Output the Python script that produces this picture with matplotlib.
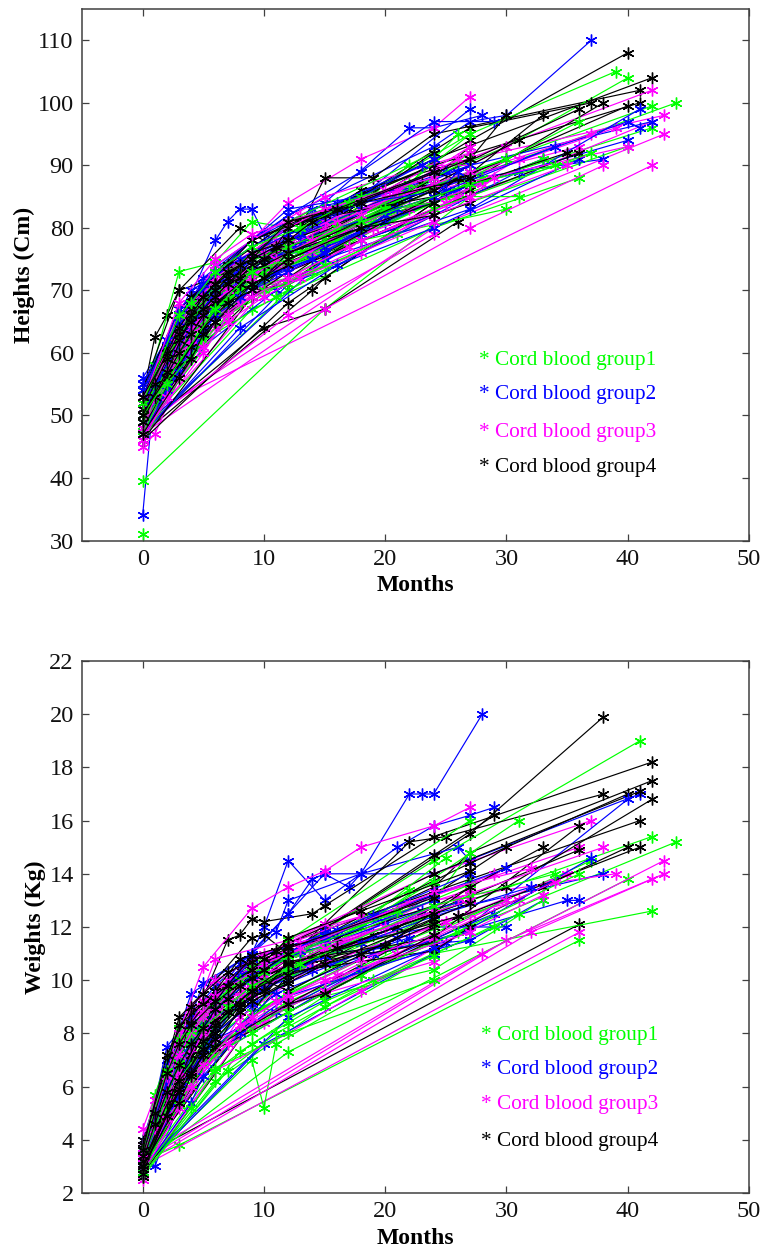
import matplotlib
matplotlib.use('Agg')
import matplotlib.pyplot as plt

plt.rcParams['font.family'] = ['Liberation Serif', 'DejaVu Serif']

group_names = ['Cord blood group1', 'Cord blood group2', 'Cord blood group3', 'Cord blood group4']
group_colors = ['#00ff00', '#0000ff', '#ff00ff', '#000000']
x_ticks = [0, 10, 20, 30, 40, 50]
height_ticks = [30, 40, 50, 60, 70, 80, 90, 100, 110]
weight_ticks = [2, 4, 6, 8, 10, 12, 14, 16, 18, 20, 22]

# each row is one child: months, then value at each visit
height_g1 = [
    ([0], [31]),
    ([0, 15, 27], [39.5, 67, 85]),
    ([0, 3, 6, 9, 12, 18, 24], [52, 73, 74.5, 81, 80, 85, 90]),
    ([0, 6, 12, 24, 44], [50, 68, 76, 86, 100]),
    ([0, 3, 9, 15, 27, 42], [49, 61, 72, 79, 89, 99.5]),
    ([0, 4, 12, 24, 42], [48, 63, 74, 85, 96]),
    ([0, 6, 10, 18, 30, 40], [51, 70, 75, 83, 93, 104]),
    ([0, 3, 12, 27, 39], [53, 66, 78, 95, 105]),
    ([0, 12, 24, 40], [47.5, 70, 82, 93]),
    ([0, 9, 24, 36], [48, 67, 80, 88]),
    ([0, 6, 18, 30], [50, 65, 78, 83]),
    ([0, 2, 6, 12, 36], [52, 60, 70, 77, 91]),
    ([0, 3, 6, 12, 24, 36], [51, 62, 69, 72, 85, 97]),
    ([0, 5, 9, 12, 27], [50, 66, 71, 71, 92]),
    ([0, 4, 8, 15, 25, 31], [49, 64, 71, 76, 85, 85]),
    ([0, 1, 3, 6, 10, 24], [54, 58, 65, 72, 76, 88]),
    ([0, 6, 12, 20, 27], [52, 72, 79, 84, 95]),
    ([0, 3, 7, 12, 18, 26], [50, 61, 69, 74, 79, 95]),
    ([0, 9, 15, 24, 33], [49, 73, 76, 84, 91]),
    ([0, 2, 5, 9, 16], [51, 58, 68, 74, 78]),
    ([0, 3, 6, 9, 13, 22], [47, 59, 67, 70, 76, 90]),
    ([0, 6, 12, 24], [53, 71, 81, 92]),
    ([0, 8, 14, 21], [48, 68, 73, 79]),
    ([0, 4, 10, 19, 28], [50, 65, 72, 81, 88]),
    ([0, 3, 9, 12, 24, 30], [52, 64, 76, 76, 87, 91]),
    ([0, 5, 11, 24, 37], [46, 62, 69, 83, 92]),
    ([0, 3, 5, 7, 9, 12, 15, 24], [50, 59, 64, 68, 72, 75, 78, 86]),
    ([0, 2, 4, 6, 8, 10, 12, 18, 27], [51, 57, 63, 67, 70, 73, 76, 82, 89]),
    ([0, 1, 3, 5, 8, 11, 14, 20, 24], [49, 54, 60, 67, 72, 75, 78, 83, 84]),
    ([0, 3, 6, 8, 12, 16, 24, 27], [48, 63, 70, 74, 77, 80, 88, 91]),
    ([0, 4, 7, 9, 12, 18, 22], [53, 66, 73, 75, 81, 85, 87]),
    ([0, 2, 5, 7, 10, 12, 15], [47, 55, 62, 66, 70, 71, 74]),
    ([0, 6, 9, 12, 18, 27, 34], [50, 67, 73, 75, 81, 87, 90]),
    ([0, 3, 4, 6, 9, 13, 17], [52, 66, 68, 73, 77, 80, 84]),
]
height_g2 = [
    ([0, 1], [34, 55]),
    ([0, 3, 6, 7, 8, 9, 10, 12, 24, 27, 30, 37], [56, 65, 78, 81, 83, 83, 79, 82, 93, 97, 98, 110]),
    ([0, 4, 9, 15, 22, 24, 28], [55, 70, 76, 84, 96, 96, 98]),
    ([0, 6, 12, 18, 24, 29], [52, 74, 82, 89, 97, 97]),
    ([0, 3, 10, 12, 15, 18, 24, 38], [50, 66, 76, 76, 76, 81, 87, 91]),
    ([0, 5, 9, 14, 18, 27], [53, 72, 78, 83, 85, 99]),
    ([0, 6, 12, 27, 42], [50, 71, 80, 90, 97]),
    ([0, 3, 9, 24, 40, 41], [49, 63, 74, 86, 97, 96]),
    ([0, 6, 15, 24, 40], [51, 68, 76, 85, 94]),
    ([0, 9, 15, 27], [48, 71, 76, 87]),
    ([0, 4, 12, 24], [52, 67, 76, 84]),
    ([0, 2, 6, 12, 24, 33], [54, 61, 70, 75, 84, 91]),
    ([0, 5, 8, 12, 18], [51, 64, 71, 79, 82]),
    ([0, 12, 24, 36], [47, 71, 80, 91]),
    ([0, 3, 6, 10, 14, 20, 26], [50, 60, 68, 72, 76, 81, 86]),
    ([0, 3, 7, 9, 15, 25], [53, 64, 73, 70, 82, 89]),
    ([0, 6, 9, 12, 22], [49, 66, 72, 74, 85]),
    ([0, 15, 27, 41], [48, 75, 83, 99]),
    ([0, 4, 9, 12, 27], [55, 69, 78, 83, 88]),
    ([0, 3, 11, 18, 24], [46, 58, 70, 78, 82]),
    ([0, 6, 13, 16, 23], [50, 73, 79, 84, 90]),
    ([0, 2, 5, 7, 12], [52, 60, 70, 72, 77]),
    ([0, 8, 16, 31], [47, 64, 74, 89]),
    ([0, 3, 6, 9, 12, 15, 18], [51, 62, 71, 74, 77, 77, 79]),
    ([0, 3, 4, 6, 8, 10, 12, 15, 24], [49, 60, 63, 68, 71, 75, 76, 80, 87]),
    ([0, 1, 3, 5, 7, 9, 12, 18, 27], [51, 54, 62, 67, 72, 75, 78, 83, 90]),
    ([0, 2, 4, 6, 9, 11, 14, 20], [48, 54, 61, 66, 70, 73, 75, 82]),
    ([0, 3, 6, 9, 12, 16, 24], [53, 67, 73, 77, 80, 83, 91]),
    ([0, 4, 7, 10, 13, 24, 26], [50, 66, 70, 74, 78, 85, 89]),
    ([0, 3, 5, 8, 12, 15, 21], [47, 57, 63, 69, 73, 76, 83]),
    ([0, 6, 9, 13, 18, 25, 34], [52, 70, 75, 79, 84, 86, 93]),
    ([0, 2, 3, 5, 8, 12, 24], [54, 62, 65, 71, 75, 79, 89]),
]
height_g3 = [
    ([0, 42], [50, 90]),
    ([0, 24, 43], [49, 80, 95]),
    ([0, 3, 9, 12, 18, 24, 27], [52, 66, 78, 84, 91, 96, 101]),
    ([0, 6, 12, 24, 42], [51, 71, 79, 89, 102]),
    ([0, 9, 18, 27, 43], [50, 74, 84, 91, 98]),
    ([0, 4, 12, 27, 42], [48, 63, 73, 85, 97]),
    ([0, 1, 6, 15, 24, 39], [45, 47, 69, 78, 86, 96]),
    ([0, 5, 8, 12, 20, 36], [53, 70, 74, 77, 85, 93]),
    ([0, 3, 6, 9, 12, 24, 30], [49, 62, 71, 73, 76, 87, 93]),
    ([0, 7, 12, 18, 24, 33], [48, 70, 76, 81, 84, 91]),
    ([0, 15, 27, 38], [47, 67, 80, 90]),
    ([0, 12, 24], [48, 66, 79]),
    ([0, 6, 24, 27], [52, 72, 90, 90]),
    ([0, 4, 10, 15, 21, 37], [50, 66, 74, 80, 85, 95]),
    ([0, 2, 4, 6, 9, 13], [54, 61, 68, 72, 76, 82]),
    ([0, 3, 5, 7, 11, 16], [47, 59, 65, 69, 74, 79]),
    ([0, 3, 6, 9, 15, 27], [51, 65, 74, 78, 85, 92]),
    ([0, 6, 9, 18, 26], [49, 64, 70, 76, 85]),
    ([0, 1, 3, 8, 12, 22, 28], [53, 56, 63, 72, 75, 83, 87]),
    ([0, 5, 9, 14, 24], [46, 64, 72, 76, 83]),
    ([0, 3, 6, 9], [50, 67, 73, 76]),
    ([0, 2, 4, 9, 12, 19], [52, 58, 63, 70, 73, 80]),
    ([0, 10, 17, 25, 31], [48, 70, 77, 84, 91]),
    ([0, 6, 12, 24, 40], [50, 70, 75, 86, 93]),
    ([0, 4, 7, 11, 15, 24], [51, 68, 73, 78, 80, 88]),
    ([0, 3, 8, 24, 35], [46, 60, 68, 82, 90]),
    ([0, 2, 4, 5, 7, 9, 12, 18, 24], [49, 56, 62, 66, 70, 72, 74, 81, 85]),
    ([0, 3, 5, 6, 8, 10, 12, 15, 27], [51, 63, 68, 70, 74, 76, 78, 81, 89]),
    ([0, 1, 4, 6, 9, 12, 16, 24], [50, 53, 64, 69, 74, 77, 81, 87]),
    ([0, 3, 7, 9, 11, 14, 18, 27], [48, 62, 70, 72, 75, 78, 82, 93]),
    ([0, 4, 6, 8, 12, 15, 21, 26], [53, 67, 72, 75, 80, 83, 86, 91]),
    ([0, 2, 5, 7, 10, 13, 24], [46, 53, 61, 65, 69, 72, 81]),
    ([0, 3, 6, 9, 12, 20, 24], [52, 68, 75, 79, 81, 86, 88]),
    ([0, 5, 7, 9, 12, 18, 27, 29], [47, 60, 66, 69, 72, 78, 85, 88]),
]
height_g4 = [
    ([0, 15, 27, 40], [52, 80, 94, 108]),
    ([0, 1, 2, 3, 6, 12, 24, 42], [53, 62.5, 66, 70, 72, 80, 91, 104]),
    ([0, 3, 8, 12, 15, 19, 24, 41], [54, 70, 80, 76, 88, 88, 95, 102]),
    ([0, 6, 12, 24, 41], [50, 72, 80, 90, 100]),
    ([0, 10, 15, 26], [48, 64, 67, 81]),
    ([0, 14, 15, 24, 38], [47, 70, 72, 84, 100]),
    ([0, 9, 18, 27, 37], [51, 74, 85, 96, 100]),
    ([0, 6, 12, 24, 36], [50, 70, 78, 88, 99]),
    ([0, 4, 9, 12, 24, 40], [49, 66, 74, 76, 86, 99.5]),
    ([0, 3, 6, 9, 12, 18, 27, 30], [52, 64, 71, 76, 79, 86, 91, 98]),
    ([0, 12, 24, 33], [46, 68, 84, 98]),
    ([0, 3, 6, 12, 27], [48, 62, 66, 74, 84]),
    ([0, 6, 9, 15, 24], [51, 73, 78, 83, 90]),
    ([0, 4, 7, 10, 13, 24, 27], [53, 68, 72, 74, 78, 88, 93]),
    ([0, 2, 5, 9, 15, 22], [50, 58, 66, 72, 77, 86]),
    ([0, 3, 9, 12, 20, 27], [49, 60, 70, 71, 82, 86]),
    ([0, 8, 12, 21, 30], [47, 71, 75, 84, 91]),
    ([0, 5, 10, 18, 24], [52, 70, 76, 81, 85]),
    ([0, 3, 6, 9, 12, 15], [51, 66, 72, 75, 77, 79]),
    ([0, 6, 9, 12, 24, 36], [48, 65, 69, 73, 83, 92]),
    ([0, 4, 6, 8, 11, 16], [50, 64, 69, 72, 75, 80]),
    ([0, 3, 7, 12, 17, 24], [54, 67, 74, 81, 83, 92]),
    ([0, 2, 3, 6, 9, 27], [52, 61, 63, 68, 72, 89]),
    ([0, 9, 12, 15, 24, 26], [46, 69, 72, 76, 85, 88]),
    ([0, 3, 6, 12, 24, 31], [49, 63, 70, 77, 87, 94]),
    ([0, 6, 8, 10, 12, 18, 23], [51, 69, 73, 76, 78, 82, 87]),
    ([0, 5, 9, 12, 24, 27], [50, 67, 71, 79, 89, 87]),
    ([0, 4, 6, 9, 13, 24, 35], [53, 69, 72, 78, 81, 85, 92]),
    ([0, 3, 5, 7, 9, 12], [48, 58, 64, 68, 71, 74]),
    ([0, 2, 4, 6, 9, 12, 24], [50, 56, 61, 67, 70, 76, 84]),
    ([0, 1, 2, 3, 4, 5, 6, 7, 8, 9, 10, 12], [51, 55, 59, 62, 65, 67, 69, 71, 72, 74, 75, 78]),
    ([0, 1, 3, 4, 5, 6, 8, 9, 10, 12, 24], [49, 53, 60, 63, 66, 68, 71, 73, 74, 76, 86]),
    ([0, 2, 3, 4, 6, 7, 9, 11, 12, 15, 27], [52, 60, 64, 67, 71, 73, 75, 77, 80, 82, 91]),
    ([0, 3, 4, 5, 6, 9, 10, 12, 18, 24], [47, 56, 59, 63, 65, 71, 72, 75, 80, 82]),
    ([0, 2, 4, 6, 7, 9, 12, 14, 18, 27], [50, 57, 66, 70, 72, 76, 78, 81, 84, 88]),
    ([0, 3, 5, 6, 8, 9, 12, 16, 24], [53, 63, 69, 71, 74, 75, 81, 83, 89]),
]

weight_g1 = [
    ([0, 3, 36], [3.2, 3.8, 11.5]),
    ([0, 9, 10, 11, 24, 42], [3, 7, 5.2, 7.6, 11, 12.6]),
    ([0, 12, 40], [3.1, 7.3, 13.8]),
    ([0, 6, 12, 24, 41], [3.5, 9, 11, 14.5, 19]),
    ([0, 4, 12, 27, 44], [3.2, 7, 9.2, 12, 15.2]),
    ([0, 3, 9, 24, 42], [3.4, 6.6, 9.5, 12.5, 15.4]),
    ([0, 2, 6, 18, 31], [3.3, 6, 8.6, 12, 16]),
    ([0, 6, 15, 31], [2.8, 6.2, 9, 12.5]),
    ([0, 3, 9, 18, 37], [3, 6, 8.2, 10.5, 14.5]),
    ([0, 5, 12, 25], [3.2, 7.5, 10, 14.6]),
    ([0, 1, 3, 6, 12, 27], [3.6, 5.7, 8.2, 9.6, 11.5, 16]),
    ([0, 8, 15, 24, 33], [2.6, 7.3, 9.4, 10.4, 13]),
    ([0, 2, 4, 9, 20], [3, 5, 6.4, 8.8, 11.2]),
    ([0, 3, 7, 14, 24], [3.5, 7, 9.6, 11, 13.7]),
    ([0, 6, 9, 12, 18, 30], [3.3, 7.5, 8.6, 9.5, 10.8, 13]),
    ([0, 4, 10, 16, 27], [2.9, 6.5, 9, 10.6, 13.2]),
    ([0, 3, 6, 12, 24, 36], [3.1, 5.5, 7.5, 9, 11.4, 14]),
    ([0, 5, 9, 13, 22], [3.8, 8.4, 10.5, 11, 13.4]),
    ([0, 7, 11, 19, 29], [2.7, 6.6, 8, 10, 12]),
    ([0, 3, 8, 15, 24, 27], [3.4, 7.8, 9.8, 11.6, 13, 14.8]),
    ([0, 6, 12, 24], [3, 6.7, 8, 10]),
    ([0, 2, 5, 8, 12], [3.2, 6.4, 8.6, 9.4, 10.3]),
    ([0, 2, 3, 5, 6, 8, 9, 12, 24], [3.1, 5.2, 6.2, 7.6, 8.3, 9.1, 9.6, 10.5, 12.2]),
    ([0, 1, 3, 4, 6, 7, 9, 15, 27], [3.4, 4.6, 6.8, 7.8, 9, 9.6, 10.3, 11.3, 13.6]),
    ([0, 3, 4, 6, 9, 12, 18, 26], [2.9, 5.3, 6.1, 7.2, 8, 8.8, 10.2, 11.8]),
    ([0, 2, 4, 5, 8, 10, 12, 21], [3.6, 6.6, 8.1, 8.8, 10, 10.3, 10.9, 12.6]),
    ([0, 3, 5, 7, 9, 13, 24, 34], [3.2, 6.9, 8.2, 9, 9.8, 10.6, 12.8, 14]),
    ([0, 4, 6, 9, 12, 15, 24], [2.8, 5.2, 6.6, 7.6, 8.4, 9.2, 10.9]),
]
weight_g2 = [
    ([0, 5, 9, 12, 14, 15, 17, 18, 22, 23, 24, 28], [3.6, 9.9, 11, 12.5, 13.8, 14, 13.5, 14, 17, 17, 17, 20]),
    ([0, 4, 9, 10, 12, 15, 21, 24, 27, 29], [4, 9.5, 11, 12, 14.5, 13, 15, 15.8, 16.2, 16.5]),
    ([0, 2, 6, 11, 12, 18, 26, 27], [3.3, 7.5, 9.8, 11.8, 13, 14, 15, 14.5]),
    ([0, 3, 8, 12, 15, 24, 41], [3.2, 7.8, 10.6, 12.5, 14, 14, 17]),
    ([0, 1, 4, 9, 15, 24, 38], [3, 3, 6.5, 9.5, 11, 12.5, 14]),
    ([0, 6, 12, 24, 35, 36], [3.1, 8.4, 10.2, 11.5, 13, 13]),
    ([0, 3, 9, 15, 27, 33], [3.4, 6.4, 9, 11, 11.5, 13]),
    ([0, 5, 9, 12, 24, 30], [3.5, 8, 9.5, 11, 12, 12]),
    ([0, 10, 24, 40], [2.9, 7.6, 11, 16.8]),
    ([0, 6, 18, 27], [3, 7.2, 10.4, 11.5]),
    ([0, 2, 4, 6, 9, 12], [3.7, 6.8, 8.6, 9.6, 10.5, 10.8]),
    ([0, 7, 12, 20, 24], [3.3, 8.8, 10.2, 12.2, 13.2]),
    ([0, 3, 6, 11, 18, 29], [2.8, 5.8, 7.8, 8.8, 10.4, 12.5]),
    ([0, 5, 8, 13, 23], [3.2, 8.4, 10.1, 11, 12.6]),
    ([0, 12, 25, 37], [3, 8.6, 11.4, 14.6]),
    ([0, 3, 9, 16, 26], [3.6, 7.3, 10.8, 11.9, 12.9]),
    ([0, 4, 11, 19, 27], [2.7, 6.7, 9.5, 11, 11.8]),
    ([0, 4, 7, 9, 12, 15], [3.8, 7.8, 9.8, 11, 11, 11.8]),
    ([0, 2, 6, 10, 14, 22], [3.1, 6, 9, 9.7, 10.4, 11.6]),
    ([0, 8, 15, 24, 32], [3.4, 9.4, 10.9, 12.4, 13.5]),
    ([0, 2, 3, 5, 7, 9, 12, 18, 24], [3, 5.8, 6.6, 8, 9, 9.8, 10.4, 11.4, 12.8]),
    ([0, 1, 3, 4, 6, 8, 10, 15, 27], [3.3, 5, 7.2, 8.2, 9.4, 10.2, 10.6, 11.7, 14]),
    ([0, 3, 5, 6, 9, 12, 21], [2.9, 5.6, 7.4, 8, 9.1, 9.9, 11.6]),
    ([0, 2, 4, 7, 10, 13, 24], [3.5, 6.2, 7.6, 9.3, 10.4, 11.1, 13]),
    ([0, 3, 6, 9, 15, 19, 30], [3.1, 7, 8.9, 10.2, 11.5, 12.4, 14.2]),
    ([0, 4, 5, 8, 12, 24], [2.8, 5.4, 6.4, 8, 9.4, 11.2]),
]
weight_g3 = [
    ([0, 36], [3, 11.8]),
    ([0, 30, 43], [3.2, 11.5, 14]),
    ([0, 28, 43], [3.4, 11, 14.5]),
    ([0, 32, 42], [3.1, 11.8, 13.8]),
    ([0, 5, 9, 12, 15, 18, 24, 27], [4.4, 10.5, 12.7, 13.5, 14.1, 15, 15.8, 16.5]),
    ([0, 6, 12, 24, 37], [3.6, 10.8, 11.5, 14, 16]),
    ([0, 4, 9, 15, 27, 36], [3.3, 8.8, 10.8, 12, 13.6, 15]),
    ([0, 3, 6, 12, 24, 39], [3.1, 7.6, 9, 10.6, 13, 14]),
    ([0, 2, 6, 9, 18, 27], [2.5, 6.2, 8.4, 9.5, 11.5, 12.5]),
    ([0, 8, 14, 24, 35], [3, 8.6, 10.5, 12, 14]),
    ([0, 5, 10, 16, 26, 31], [2.6, 7, 8.4, 10.2, 12.4, 13]),
    ([0, 3, 7, 11, 22], [3.5, 8, 9.7, 10.9, 12.9]),
    ([0, 4, 8, 12, 20, 29], [3.2, 8.2, 9.9, 11.2, 12.5, 14]),
    ([0, 1, 3, 5, 9, 15], [3.7, 5.5, 7.6, 9.2, 10.7, 12.1]),
    ([0, 6, 12, 18, 24, 33], [2.8, 6.6, 8, 9.6, 11.2, 13.2]),
    ([0, 3, 6, 9, 12, 25], [3, 6.8, 8.6, 9.6, 10.2, 12.2]),
    ([0, 2, 4, 7, 13, 27], [3.4, 6.6, 8.4, 10, 11.4, 13.4]),
    ([0, 5, 12, 24, 34], [3.3, 7.4, 9.3, 11.6, 13.7]),
    ([0, 9, 15, 21, 30], [2.9, 8.4, 9.6, 11, 13]),
    ([0, 4, 6, 10, 18], [3.8, 9, 10, 11, 12.4]),
    ([0, 3, 9, 12, 24], [3.1, 6, 8.4, 9.1, 10.7]),
    ([0, 7, 15, 26, 38], [3.5, 9.3, 11.1, 13.1, 15]),
    ([0, 2, 3, 4, 6, 8, 9, 12, 24], [3.2, 5.6, 6.6, 7.4, 8.6, 9.4, 9.9, 10.8, 12.6]),
    ([0, 1, 3, 5, 6, 7, 10, 15, 27], [3, 4.4, 6.4, 8, 8.8, 9.2, 10.2, 11.2, 13]),
    ([0, 2, 4, 5, 8, 9, 12, 20], [3.5, 6.4, 8, 8.6, 9.8, 10.4, 11, 12]),
    ([0, 3, 4, 7, 9, 12, 18, 24], [2.7, 5.2, 6, 7.6, 8.6, 9.4, 10.8, 11.7]),
    ([0, 3, 5, 6, 10, 13, 24, 32], [3.3, 7.2, 8.8, 9.4, 10.6, 11.2, 13.3, 14.2]),
    ([0, 2, 5, 8, 11, 15, 27], [2.9, 4.8, 6.8, 8.3, 9.2, 10, 11.8]),
]
weight_g4 = [
    ([0, 36], [3.4, 12.1]),
    ([0, 15, 27, 38], [3.5, 11.9, 15.5, 19.9]),
    ([0, 7, 8, 9, 10, 14, 15, 24, 42], [4, 11.5, 11.7, 12.3, 12.2, 12.5, 12.8, 15.4, 18.2]),
    ([0, 3, 6, 9, 10, 12, 24, 27, 42], [3.6, 8.6, 10, 11.6, 11.7, 11, 13.5, 14.8, 17.5]),
    ([0, 6, 12, 24, 29], [3.3, 9.6, 11, 14.7, 16.2]),
    ([0, 5, 12, 22, 25, 38], [3, 8.4, 10.8, 15.2, 15.4, 17]),
    ([0, 4, 9, 18, 27, 40], [3.2, 7.6, 10.2, 12.4, 14.4, 17]),
    ([0, 3, 9, 15, 24, 41], [3.1, 8, 10.8, 12, 14, 17.1]),
    ([0, 6, 15, 30, 42], [2.8, 8.6, 11, 13.5, 16.8]),
    ([0, 2, 6, 12, 27, 41], [3.5, 7, 9.4, 11.4, 13.8, 16]),
    ([0, 9, 24, 41], [2.7, 8.4, 12, 15]),
    ([0, 6, 18, 33, 40], [3, 7.4, 10.2, 13.5, 15]),
    ([0, 4, 8, 12, 24, 30], [3.4, 8.8, 10.4, 11, 13.2, 15]),
    ([0, 5, 9, 15, 24, 36], [2.9, 8, 9.6, 11.2, 12.6, 14.9]),
    ([0, 12, 24, 36], [3.2, 10.6, 11.6, 15.8]),
    ([0, 3, 7, 11, 19, 27], [3.7, 7.2, 9.6, 10.4, 11.7, 13]),
    ([0, 2, 5, 9, 13, 24], [3.1, 6.2, 8.8, 9.8, 10.6, 11.4]),
    ([0, 6, 10, 14, 21, 33], [3.3, 8.2, 10, 10.8, 12, 15]),
    ([0, 3, 6, 9, 12, 18], [2.6, 6.4, 8, 9.2, 10, 11.4]),
    ([0, 4, 6, 8, 12, 16, 24], [3.5, 8.4, 9.6, 10.8, 11.3, 11.6, 12.8]),
    ([0, 9, 12, 24, 27], [3, 9.7, 10.3, 11.1, 12]),
    ([0, 3, 5, 7, 9, 12], [3.8, 8.3, 9.1, 9.8, 10.9, 10.6]),
    ([0, 2, 4, 6, 9, 15, 26], [2.9, 5.4, 7.2, 8.5, 9.6, 11, 12.4]),
    ([0, 6, 9, 12, 24], [3.4, 9.2, 10.2, 9.6, 12.3]),
    ([0, 5, 8, 10, 12, 20, 27], [3.1, 7.7, 9.1, 9.6, 10.7, 11.3, 13.5]),
    ([0, 3, 6, 12, 15, 24], [3.2, 5.9, 7.5, 9.1, 9.5, 11.7]),
    ([0, 1, 2, 3, 4, 5, 6, 7, 8, 9, 10, 12], [3.2, 4.6, 5.8, 6.8, 7.6, 8.2, 8.9, 9.3, 9.8, 10.1, 10.4, 11]),
    ([0, 1, 2, 3, 4, 6, 7, 9, 10, 12, 24], [3.4, 5, 6.5, 7.6, 8.3, 9.2, 9.8, 10.4, 10.8, 11.2, 13.1]),
    ([0, 2, 3, 4, 5, 6, 8, 9, 12, 15, 27], [2.9, 4.9, 5.8, 6.5, 7.2, 7.8, 8.8, 9.2, 9.9, 10.6, 12.9]),
    ([0, 3, 4, 5, 6, 8, 10, 12, 18, 24], [3, 5.4, 6.4, 7.2, 8, 9, 9.6, 10.2, 11, 12.1]),
    ([0, 2, 4, 5, 7, 9, 11, 12, 18, 27], [3.6, 7.2, 9, 9.5, 10.3, 10.7, 11.1, 11.6, 12.6, 14.1]),
    ([0, 3, 5, 6, 7, 9, 12, 16, 24], [2.7, 6.2, 7.4, 8.3, 8.8, 9.6, 10.6, 11.2, 12.5]),
]

fig = plt.figure(figsize=(7.64, 12.49), dpi=100)
W, H = 764.0, 1249.0


def make_panel(box, groups, ylim, yticks, ylabel, ylabel_x, legend_x, legend_y):
    left, top, right, bottom = box
    ax = fig.add_axes([left / W, 1 - bottom / H, (right - left) / W, (bottom - top) / H])
    most = max(len(g) for g in groups)
    for i in range(most):
        for g, c in zip(groups, group_colors):
            if i < len(g):
                ax.plot(g[i][0], g[i][1], color=c, lw=0.85, marker=(6, 2, 0), ms=8.5, mew=1.0, clip_on=False)
    ax.set_xlim(-5, 50)
    ax.set_ylim(*ylim)
    ax.set_xticks(x_ticks)
    ax.set_yticks(yticks)
    ax.tick_params(direction='in', top=True, right=True, length=5, width=0.9, color='#404040',
                   labelsize=17.5, pad=6, labelcolor='#111111')
    for s in ax.spines.values():
        s.set_color('#404040')
        s.set_linewidth(1.1)
    ax.set_xlabel('Months', fontsize=17, fontweight='bold', labelpad=4)
    fig.text(ylabel_x / W, 1 - (top + bottom) / 2 / H, ylabel, rotation=90, fontsize=17,
             fontweight='bold', ha='center', va='center')
    for name, c, y in zip(group_names, group_colors, legend_y):
        ax.text(legend_x, y, '* ' + name, color=c, fontsize=15.3, ha='left', va='center')


make_panel((82, 9, 749, 540.5), [height_g1, height_g2, height_g3, height_g4], (30, 115), height_ticks,
           'Heights (Cm)', 24, 27.7, [58.8, 53.3, 47.3, 41.7])
make_panel((82, 661, 749, 1193), [weight_g1, weight_g2, weight_g3, weight_g4], (2, 22), weight_ticks,
           'Weights (Kg)', 35, 27.9, [7.93, 6.65, 5.34, 3.95])

fig.savefig('out.png', dpi=100)
